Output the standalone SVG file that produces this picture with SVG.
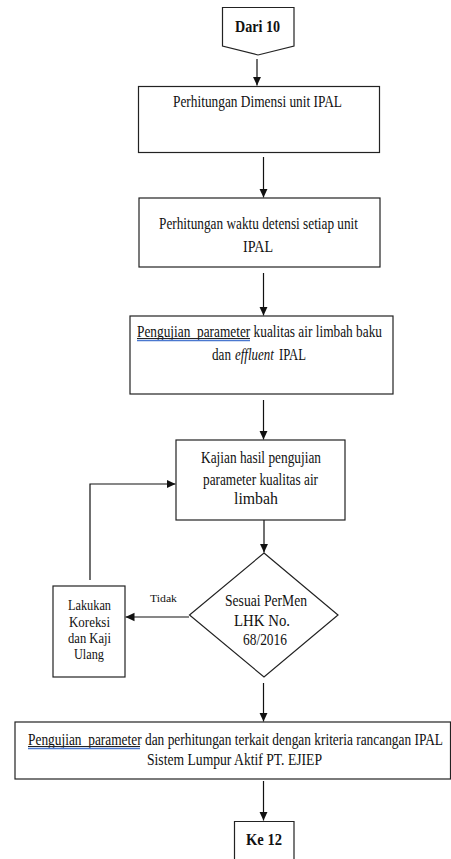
<svg xmlns="http://www.w3.org/2000/svg" width="451" height="859" viewBox="0 0 451 859">
<style>
.bx{fill:#fff;stroke:#222;stroke-width:1.2}
.t{font-family:"Liberation Serif","Times New Roman",serif;font-size:17px;fill:#111;text-anchor:middle;white-space:pre}
.st{text-anchor:start}
.s{font-size:15px}
.b{font-weight:bold}
.c{fill:none;stroke:#111;stroke-width:1.2}
.ul{stroke:#222;stroke-width:1}
.bl{stroke:#4a78d0;stroke-width:1.3}
</style>
<defs>
<marker id="ah" markerUnits="userSpaceOnUse" markerWidth="9" markerHeight="10" viewBox="0 0 9 10" refX="9" refY="5" orient="auto">
<path d="M0,0.8 L9,5 L0,9.2 Z" fill="#111"/>
</marker>
</defs>
<g id="connectors">
<line class="c" x1="257" y1="59" x2="257" y2="85.5" marker-end="url(#ah)"/>
<line class="c" x1="263.5" y1="157" x2="263.5" y2="197.5" marker-end="url(#ah)"/>
<line class="c" x1="263.5" y1="273" x2="263.5" y2="315.5" marker-end="url(#ah)"/>
<line class="c" x1="263.5" y1="400" x2="263.5" y2="439.5" marker-end="url(#ah)"/>
<line class="c" x1="264" y1="520" x2="264" y2="552.5" stroke-width="1.8" marker-end="url(#ah)"/>
<line class="c" x1="189" y1="617" x2="125.5" y2="617" marker-end="url(#ah)"/>
<polyline class="c" points="90,580 90,484 175.5,484" marker-end="url(#ah)"/>
<line class="c" x1="263.5" y1="683" x2="263.5" y2="721.5" marker-end="url(#ah)"/>
<line class="c" x1="263.5" y1="781" x2="263.5" y2="820.5" stroke-width="2.2" marker-end="url(#ah)"/>
<text class="t" x="163.5" y="601.5" style="font-size:11px" textLength="27" lengthAdjust="spacingAndGlyphs">Tidak</text>
</g>
<g id="dari10">
<polygon class="bx" points="222.5,7.5 294,7.5 294,46 258,55 222.5,46"/>
<text class="t b" x="257.5" y="31.5" textLength="45" lengthAdjust="spacingAndGlyphs">Dari 10</text>
</g>
<g id="n1">
<rect class="bx" x="138.5" y="86.5" width="241" height="66"/>
<text class="t" x="257.5" y="107" textLength="169" lengthAdjust="spacingAndGlyphs">Perhitungan Dimensi unit IPAL</text>
</g>
<g id="n2">
<rect class="bx" x="139" y="198" width="241" height="69"/>
<text class="t" x="258.5" y="229" textLength="199" lengthAdjust="spacingAndGlyphs">Perhitungan waktu detensi setiap unit</text>
<text class="t" x="258" y="251.5" textLength="30" lengthAdjust="spacingAndGlyphs">IPAL</text>
</g>
<g id="n3">
<rect class="bx" x="130" y="316" width="263" height="78"/>
<text class="t" x="259.5" y="336.5" textLength="245" lengthAdjust="spacingAndGlyphs">Pengujian  parameter kualitas air limbah baku</text>
<line class="ul" x1="137" y1="338.5" x2="250" y2="338.5"/>
<line class="bl" x1="137" y1="340.5" x2="250" y2="340.5"/>
<text class="t st" x="212" y="359.5" textLength="19" lengthAdjust="spacingAndGlyphs">dan</text>
<text class="t st" transform="translate(235,359.5) scale(0.76,1)" x="0" y="0" font-style="italic" textLength="51" lengthAdjust="spacingAndGlyphs">effluent</text>
<text class="t st" x="279" y="359.5" textLength="27" lengthAdjust="spacingAndGlyphs">IPAL</text>
</g>
<g id="n4">
<rect class="bx" x="176" y="440" width="169" height="80"/>
<text class="t" x="261" y="463" textLength="120" lengthAdjust="spacingAndGlyphs">Kajian hasil pengujian</text>
<text class="t" x="260.5" y="485" textLength="115" lengthAdjust="spacingAndGlyphs">parameter kualitas air</text>
<text class="t" x="256" y="504" textLength="44" lengthAdjust="spacingAndGlyphs">limbah</text>
</g>
<g id="decision">
<polygon class="bx" points="264,553 338,615 264,677 189.5,615"/>
<text class="t" x="266" y="606" textLength="82" lengthAdjust="spacingAndGlyphs">Sesuai PerMen</text>
<text class="t" x="262" y="626" textLength="56" lengthAdjust="spacingAndGlyphs">LHK No.</text>
<text class="t" x="265" y="645" textLength="44" lengthAdjust="spacingAndGlyphs">68/2016</text>
</g>
<g id="koreksi">
<rect class="bx" x="53" y="586" width="72" height="91"/>
<text class="t s" x="89.5" y="610" textLength="43" lengthAdjust="spacingAndGlyphs">Lakukan</text>
<text class="t s" x="89.5" y="626.5" textLength="41" lengthAdjust="spacingAndGlyphs">Koreksi</text>
<text class="t s" x="89.5" y="643" textLength="43" lengthAdjust="spacingAndGlyphs">dan Kaji</text>
<text class="t s" x="89" y="659" textLength="30" lengthAdjust="spacingAndGlyphs">Ulang</text>
</g>
<g id="n5">
<rect class="bx" x="15" y="722" width="435.5" height="57"/>
<text class="t" transform="translate(235.5,744.5) scale(0.78,1)" x="0" y="0" style="font-size:16px" textLength="532" lengthAdjust="spacingAndGlyphs">Pengujian  parameter dan perhitungan terkait dengan kriteria rancangan IPAL</text>
<line class="ul" x1="28" y1="746.5" x2="140" y2="746.5"/>
<line class="bl" x1="28" y1="748.5" x2="140" y2="748.5"/>
<text class="t" x="234.5" y="765" textLength="175" lengthAdjust="spacingAndGlyphs">Sistem Lumpur Aktif PT. EJIEP</text>
</g>
<g id="ke12">
<path class="bx" d="M234.5,870 V821.5 H294 V870"/>
<text class="t b" x="264" y="845" textLength="36" lengthAdjust="spacingAndGlyphs">Ke 12</text>
</g>
</svg>
